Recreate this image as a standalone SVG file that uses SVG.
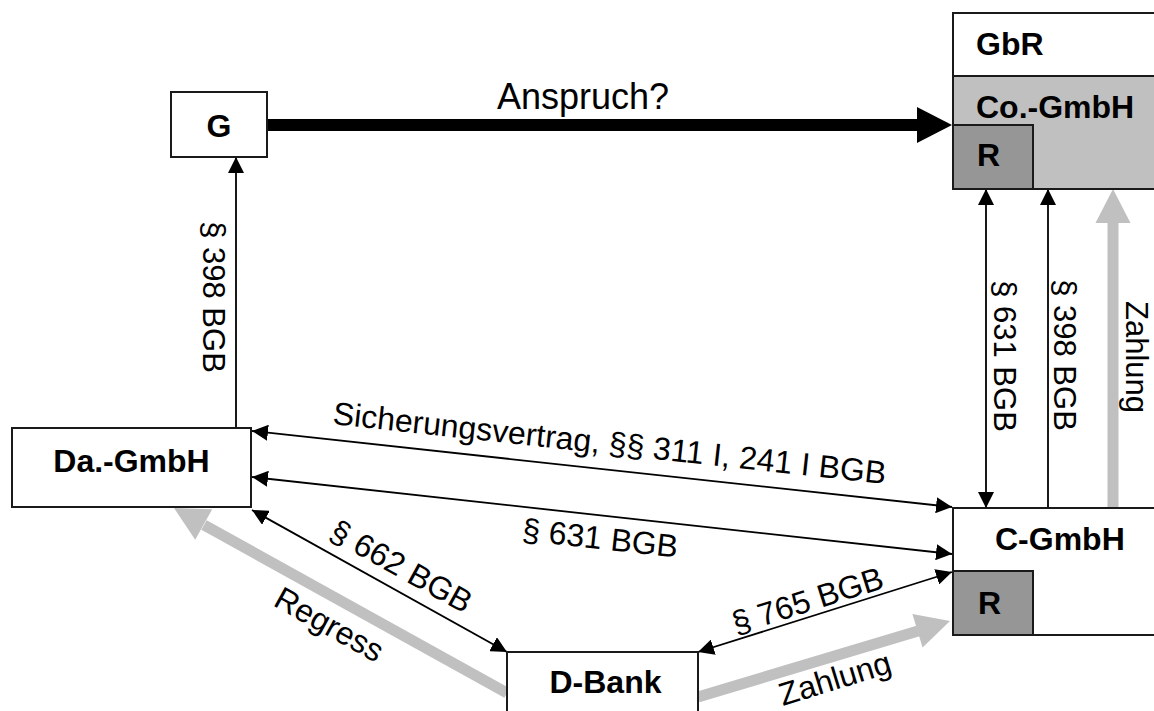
<svg xmlns="http://www.w3.org/2000/svg" width="1154" height="711" viewBox="0 0 1154 711">
<style>
.box{fill:#fff;stroke:#1a1a1a;stroke-width:2}
.light{fill:#c0c0c0;stroke:#1a1a1a;stroke-width:2}
.dark{fill:#969696;stroke:#1a1a1a;stroke-width:2}
.bt{font-family:"Liberation Sans",Arial,sans-serif;font-weight:bold;font-size:32px;fill:#000}
.lt{font-family:"Liberation Sans",Arial,sans-serif;font-size:32px;fill:#000}
.vt{font-family:"Liberation Sans",Arial,sans-serif;font-size:31px;fill:#000}
.thin{stroke:#000;stroke-width:1.8;fill:none}
.gshaft{stroke:#c0c0c0;stroke-width:11;fill:none}
.ghead{fill:#c0c0c0}
</style>
<defs>
<marker id="ah" markerUnits="userSpaceOnUse" markerWidth="16" markerHeight="16" refX="16" refY="8" orient="auto-start-reverse" viewBox="0 0 16 16">
<path d="M0,0 L16,8 L0,16 z" fill="#000"/>
</marker>
</defs>
<rect width="1154" height="711" fill="#fff"/>

<g id="connectors">
<line x1="267" y1="125" x2="918" y2="125" stroke="#000" stroke-width="12"/>
<polygon points="917,107 952,125 917,143" fill="#000"/>
<line class="thin" x1="236" y1="428" x2="236" y2="157" marker-end="url(#ah)"/>
<line class="thin" x1="986" y1="189" x2="986" y2="508" marker-start="url(#ah)" marker-end="url(#ah)"/>
<line class="thin" x1="1048" y1="508" x2="1048" y2="189" marker-end="url(#ah)"/>
<line class="gshaft" x1="1113" y1="508" x2="1113" y2="222"/>
<polygon class="ghead" points="1095.5,223 1113,189 1130.5,223"/>
<line class="thin" x1="252" y1="431" x2="952" y2="507" marker-start="url(#ah)" marker-end="url(#ah)"/>
<line class="thin" x1="252" y1="477" x2="952" y2="554" marker-start="url(#ah)" marker-end="url(#ah)"/>
<line class="thin" x1="252" y1="510" x2="507" y2="652" marker-start="url(#ah)" marker-end="url(#ah)"/>
<line class="thin" x1="698" y1="652" x2="952" y2="572" marker-start="url(#ah)" marker-end="url(#ah)"/>
<line class="gshaft" x1="507" y1="693" x2="204" y2="525"/>
<polygon class="ghead" points="174,508 212.2,509.2 195.2,539.8"/>
<line class="gshaft" x1="698" y1="697" x2="918" y2="631"/>
<polygon class="ghead" points="950,621 922.6,647.5 912.4,614.1"/>

<text class="lt" x="497" y="109" style="font-size:36px">Anspruch?</text>
<text class="vt" transform="translate(203,297) rotate(90)" text-anchor="middle">§ 398 BGB</text>
<text class="vt" transform="translate(994,356) rotate(90)" text-anchor="middle">§ 631 BGB</text>
<text class="vt" transform="translate(1054,355) rotate(90)" text-anchor="middle">§ 398 BGB</text>
<text class="vt" transform="translate(1126,357) rotate(90)" text-anchor="middle">Zahlung</text>
<text class="lt" transform="translate(332,424) rotate(6.2)">Sicherungsvertrag, §§ 311 I, 241 I BGB</text>
<text class="lt" transform="translate(599,549) rotate(6.3)" text-anchor="middle">§ 631 BGB</text>
<text class="lt" transform="translate(396,576) rotate(29)" text-anchor="middle">§ 662 BGB</text>
<text class="lt" transform="translate(324,634) rotate(29)" text-anchor="middle">Regress</text>
<text class="lt" transform="translate(811,611) rotate(-17.5)" text-anchor="middle">§ 765 BGB</text>
<text class="lt" transform="translate(838,689) rotate(-17)" text-anchor="middle">Zahlung</text>
</g>

<g id="node-G">
<rect class="box" x="171" y="92" width="96" height="65"/>
<text class="bt" x="219" y="137" text-anchor="middle">G</text>
</g>
<g id="node-GbR">
<rect class="box" x="953" y="13" width="210" height="63"/>
<text class="bt" x="976" y="55">GbR</text>
</g>
<g id="node-CoGmbH">
<rect class="light" x="953" y="76" width="210" height="113"/>
<text class="bt" x="976" y="118">Co.-GmbH</text>
</g>
<g id="node-R-top">
<rect class="dark" x="953" y="125" width="80" height="64"/>
<text class="bt" x="977" y="166">R</text>
</g>
<g id="node-DaGmbH">
<rect class="box" x="12" y="428" width="239" height="79"/>
<text class="bt" x="131.5" y="472" text-anchor="middle">Da.-GmbH</text>
</g>
<g id="node-CGmbH">
<rect class="box" x="953" y="508" width="210" height="127"/>
<text class="bt" x="995" y="550">C-GmbH</text>
</g>
<g id="node-R-bottom">
<rect class="dark" x="953" y="571" width="80" height="64"/>
<text class="bt" x="978" y="614">R</text>
</g>
<g id="node-DBank">
<rect class="box" x="507" y="652" width="191" height="70"/>
<text class="bt" x="605.5" y="693" text-anchor="middle">D-Bank</text>
</g>
</svg>
